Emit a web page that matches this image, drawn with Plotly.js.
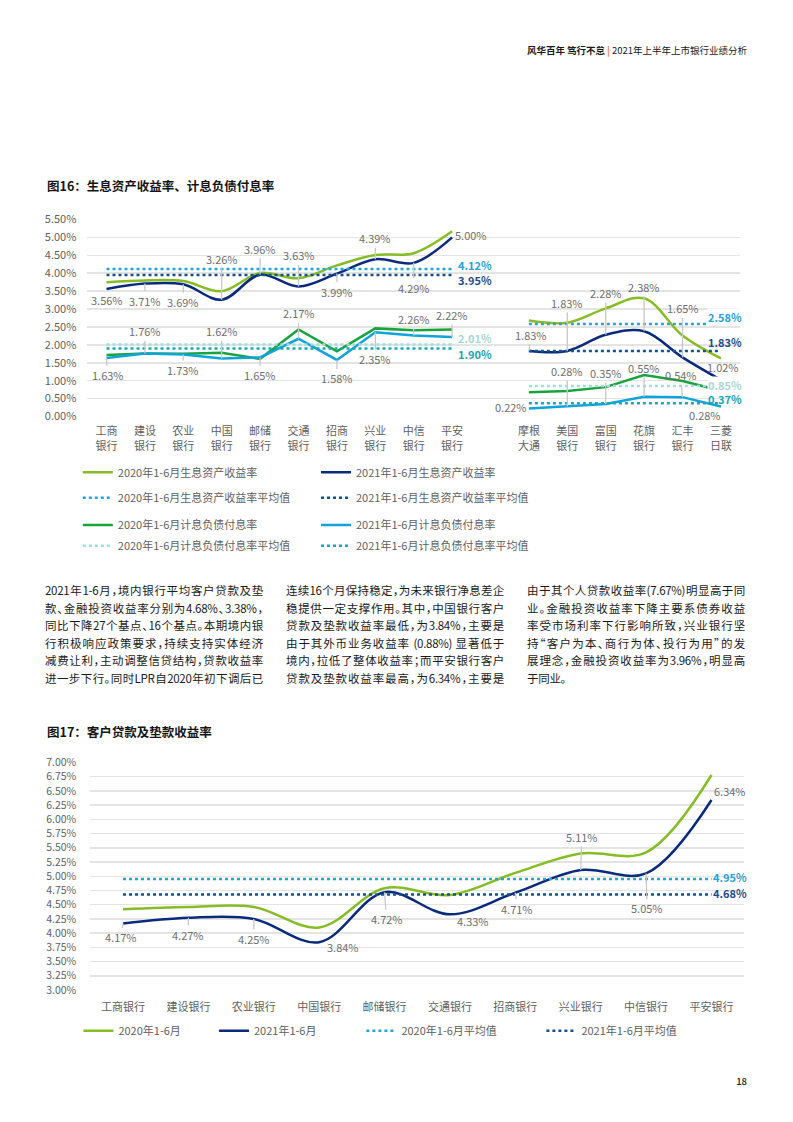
<!DOCTYPE html>
<html><head><meta charset="utf-8">
<script src="https://cdn.plot.ly/plotly-3.0.1.min.js"></script>
<style>
html,body{margin:0;padding:0;background:#fff;width:793px;height:1122px;overflow:hidden;}
#page{position:relative;width:793px;height:1122px;}
#chart{position:absolute;left:0;top:0;width:793px;height:1122px;}
.hdr{position:absolute;right:46px;top:44px;font-family:"Noto Sans CJK SC",sans-serif;font-size:9.5px;line-height:13px;color:#1a1a1a;white-space:nowrap;}
.hdr b{font-weight:700;}
.hdr .bar{color:#e87722;font-weight:700;padding:0 2px;}
.pno{position:absolute;right:46px;top:1075px;font-family:"Noto Sans CJK SC",sans-serif;font-size:9.5px;line-height:13px;color:#222;font-weight:500;}
.col{position:absolute;top:582px;width:218px;font-family:"Noto Sans CJK SC",sans-serif;font-size:11.5px;color:#1a1a1a;line-height:17.5px;font-feature-settings:"halt";}
.col div{white-space:nowrap;text-align:justify;text-align-last:justify;letter-spacing:-0.3px;}
.col div.last{text-align-last:left;}
</style></head>
<body>
<div id="page">
<div id="chart"></div>
<div class="hdr"><b>风华百年 笃行不怠</b><span class="bar">|</span>2021年上半年上市银行业绩分析</div>
<div class="col" style="left:45px;">
<div>2021年1-6月，境内银行平均客户贷款及垫</div>
<div>款、金融投资收益率分别为4.68%、3.38%，</div>
<div>同比下降27个基点、16个基点。本期境内银</div>
<div>行积极响应政策要求，持续支持实体经济</div>
<div>减费让利，主动调整信贷结构，贷款收益率</div>
<div>进一步下行。同时LPR自2020年初下调后已</div>
</div>
<div class="col" style="left:286px;">
<div>连续16个月保持稳定，为未来银行净息差企</div>
<div>稳提供一定支撑作用。其中，中国银行客户</div>
<div>贷款及垫款收益率最低，为3.84%，主要是</div>
<div>由于其外币业务收益率 (0.88%) 显著低于</div>
<div>境内，拉低了整体收益率；而平安银行客户</div>
<div>贷款及垫款收益率最高，为6.34%，主要是</div>
</div>
<div class="col" style="left:527px;">
<div>由于其个人贷款收益率(7.67%)明显高于同</div>
<div>业。金融投资收益率下降主要系债券收益</div>
<div>率受市场利率下行影响所致，兴业银行坚</div>
<div>持“客户为本、商行为体、投行为用”的发</div>
<div>展理念，金融投资收益率为3.96%，明显高</div>
<div class="last">于同业。</div>
</div>
<div class="pno">18</div>
</div>
<script>
// ---------- DATA: Figure 16 ----------
const domesticBanks = ['工商<br>银行','建设<br>银行','农业<br>银行','中国<br>银行','邮储<br>银行','交通<br>银行','招商<br>银行','兴业<br>银行','中信<br>银行','平安<br>银行'];
const foreignBanks = ['摩根<br>大通','美国<br>银行','富国<br>银行','花旗<br>银行','汇丰<br>银行','三菱<br>日联'];
const gapCategory = ' ';
const assetYield2020Dom = [3.75,3.80,3.78,3.50,4.01,3.86,4.22,4.51,4.56,5.17];
const assetYield2021Dom = [3.56,3.71,3.69,3.26,3.96,3.63,3.99,4.39,4.29,5.00];
const liabCost2020Dom = [1.72,1.76,1.75,1.78,1.61,2.43,1.82,2.46,2.41,2.43];
const liabCost2021Dom = [1.63,1.76,1.73,1.62,1.65,2.17,1.58,2.35,2.26,2.22];
const assetYield2020For = [2.68,2.62,3.02,3.30,2.26,1.62];
const assetYield2021For = [1.83,1.83,2.28,2.38,1.65,1.02];
const liabCost2020For = [0.68,0.71,0.82,1.16,0.99,0.72];
const liabCost2021For = [0.22,0.28,0.35,0.55,0.54,0.28];
// averages: [domestic, foreign]
const avgAsset2020 = [4.12, 2.58];
const avgAsset2021 = [3.95, 1.83];
const avgLiab2020 = [2.01, 0.85];
const avgLiab2021 = [1.90, 0.37];

// ---------- DATA: Figure 17 ----------
const loanBanks = ['工商银行','建设银行','农业银行','中国银行','邮储银行','交通银行','招商银行','兴业银行','中信银行','平安银行'];
const loanYield2020 = [4.42,4.46,4.46,4.10,4.79,4.67,5.06,5.40,5.42,6.78];
const loanYield2021 = [4.17,4.27,4.25,3.84,4.72,4.33,4.71,5.11,5.05,6.34];
const loanAvg2020 = 4.95;
const loanAvg2021 = 4.68;

// series names
const names16 = ['2020年1-6月生息资产收益率','2021年1-6月生息资产收益率','2020年1-6月生息资产收益率平均值','2021年1-6月生息资产收益率平均值','2020年1-6月计息负债付息率','2021年1-6月计息负债付息率','2020年1-6月计息负债付息率平均值','2021年1-6月计息负债付息率平均值'];
const names17 = ['2020年1-6月','2021年1-6月','2020年1-6月平均值','2021年1-6月平均值'];

// ---------- STYLE / PLACEMENT (not data) ----------
const C = {green:'#86bc25', navy:'#0a2b7c', green2:'#18a33c', lblue:'#0fa3dc',
           avgA20:'#1fa6e2', avgA21:'#17508f', avgL20:'#a3dcd8', avgL21:'#16a8b6',
           grid:'#e4e4e4', tick:'#5f5f5f', lbl:'#6e6e6e', lead:'#c8c8c8'};
const numFont = 'Liberation Sans Narrow, "Noto Sans CJK SC", sans-serif';
const cjkFont = '"Noto Sans CJK SC", sans-serif';
const lblFont = {family:numFont, size:11, color:C.lbl};
// [ax, ay, arrow]
const offA21Dom = [[0,11,0],[0,17,1],[0,18,1],[0,-41,1],[0,-26,1],[0,-31,1],[0,18,1],[0,-21,1],[0,25,1],[19,-2,0]];
const offL21Dom = [[1,17,1],[0,-22,1],[0,15.5,1],[0,-27,1],[0,18,1],[0,-25.5,1],[0,18.5,1],[0,27,1],[0,-16.5,1],[0,-22,1]];
const offA21For = [[2,-16,1],[0,-48,1],[0,-41.5,1],[0,-44.6,1],[0,-49,1],[2,-13,0]];
const offL21For = [[-18,-2,0],[0,-35.5,1],[0,-30.7,1],[0,-28.5,1],[-2,-22,1],[-16,8.5,0]];
const offLoan21 = [[-2,14,1],[0,17,1],[0,20,1],[24,5,0],[2,27,1],[23,6.6,0],[2,16,1],[1,-33,1],[1,35,1],[18,-9,0]];

const W = 793, H = 1122;
const px2x = p => p / W, px2y = p => 1 - p / H;

const traces = [];
const allCats16 = domesticBanks.concat([gapCategory], foreignBanks);
// invisible trace registering all category slots (including the gap)
traces.push({x: allCats16, y: allCats16.map(() => 0), mode:'lines', line:{width:0, color:'rgba(0,0,0,0)'},
  hoverinfo:'skip', showlegend:false, xaxis:'x', yaxis:'y'});

function line(x, y, color, width, dash, shape, name, legend, showlegend, xa, ya, extra) {
  return Object.assign({x, y, type:'scatter', mode:'lines', name,
    line:{color, width, dash, shape, smoothing:1},
    legend, showlegend, xaxis:xa, yaxis:ya, hoverinfo:'skip', cliponaxis:false}, extra || {});
}
const ends = a => [a[0], a[a.length-1]];
const EW16 = 193.2;

// Figure 16 traces — legend rows
const series16 = [
  [assetYield2020Dom, assetYield2020For, C.green, 'spline', 'legend', 0],
  [assetYield2021Dom, assetYield2021For, C.navy, 'spline', 'legend', 1],
  [liabCost2020Dom, liabCost2020For, C.green2, 'linear', 'legend3', 4],
  [liabCost2021Dom, liabCost2021For, C.lblue, 'linear', 'legend3', 5]
];
const avgs16 = [
  [avgAsset2020, C.avgA20, 'legend2', 2],
  [avgAsset2021, C.avgA21, 'legend2', 3],
  [avgLiab2020, C.avgL20, 'legend4', 6],
  [avgLiab2021, C.avgL21, 'legend4', 7]
];
[[series16[0], series16[1]], [avgs16[0], avgs16[1]], [series16[2], series16[3]], [avgs16[2], avgs16[3]]].forEach((row, ri) => {
  row.forEach(s => {
    if (ri % 2 === 0) {
      const [dom, fr, col, shape, lg, ni] = s;
      traces.push(line(domesticBanks, dom, col, 2.5, 'solid', shape, names16[ni], lg, true, 'x', 'y', {legendwidth:EW16}));
      traces.push(line(foreignBanks, fr, col, 2.5, 'solid', shape, names16[ni], lg, false, 'x', 'y'));
    } else {
      const [av, col, lg, ni] = s;
      traces.push(line(ends(domesticBanks), [av[0], av[0]], col, 2.5, 'dot', 'linear', names16[ni], lg, true, 'x', 'y', {legendwidth:EW16}));
      traces.push(line(ends(foreignBanks), [av[1], av[1]], col, 2.5, 'dot', 'linear', names16[ni], lg, false, 'x', 'y'));
    }
  });
});

// Figure 17 traces
const lw17 = [90.6, 102.4, 135, 120];
traces.push(line(loanBanks, loanYield2020, C.green, 2.5, 'solid', 'spline', names17[0], 'legend5', true, 'x2', 'y2', {legendwidth:lw17[0]}));
traces.push(line(loanBanks, loanYield2021, C.navy, 2.5, 'solid', 'spline', names17[1], 'legend5', true, 'x2', 'y2', {legendwidth:lw17[1]}));
traces.push(line(ends(loanBanks), [loanAvg2020, loanAvg2020], C.avgA20, 2.5, 'dot', 'linear', names17[2], 'legend5', true, 'x2', 'y2', {legendwidth:lw17[2]}));
traces.push(line(ends(loanBanks), [loanAvg2021, loanAvg2021], C.avgA21, 2.5, 'dot', 'linear', names17[3], 'legend5', true, 'x2', 'y2', {legendwidth:lw17[3]}));

// ---------- annotations ----------
const ann = [];
function lbl(xr, yr, x, y, off) {
  const [ax, ay, arrow] = off;
  const text = y.toFixed(2) + '%';
  if (arrow) return {xref:xr, yref:yr, x, y, text, showarrow:true, arrowhead:0, arrowwidth:1.3, arrowcolor:C.lead, ax, ay, font:lblFont};
  return {xref:xr, yref:yr, x, y, text, showarrow:false, xshift:ax, yshift:-ay, font:lblFont};
}
domesticBanks.forEach((b, i) => { ann.push(lbl('x','y', b, assetYield2021Dom[i], offA21Dom[i])); ann.push(lbl('x','y', b, liabCost2021Dom[i], offL21Dom[i])); });
foreignBanks.forEach((b, i) => { ann.push(lbl('x','y', b, assetYield2021For[i], offA21For[i])); ann.push(lbl('x','y', b, liabCost2021For[i], offL21For[i])); });
loanBanks.forEach((b, i) => ann.push(lbl('x2','y2', b, loanYield2021[i], offLoan21[i])));

function avgLbl(xr, yr, x, v, col, xs, ys, bg) {
  return {xref:xr, yref:yr, x, y:v, text:v.toFixed(2)+'%', showarrow:false, xanchor:'left', xshift:xs, yshift:ys,
    font:{family:numFont, size:11, color:col, weight:700}, bgcolor: bg ? '#ffffff' : 'rgba(0,0,0,0)', borderpad:0};
}
const lastDom = domesticBanks[domesticBanks.length-1], lastFor = foreignBanks[foreignBanks.length-1];
ann.push(avgLbl('x','y', lastDom, avgAsset2020[0], '#2a9fd8', 4.5, 3.5, false));
ann.push(avgLbl('x','y', lastDom, avgAsset2021[0], '#1e4d89', 4.5, -4.5, false));
ann.push(avgLbl('x','y', lastDom, avgLiab2020[0], '#a6d8d6', 4.5, 6.5, false));
ann.push(avgLbl('x','y', lastDom, avgLiab2021[0], '#1aa5b0', 4.5, -5.5, false));
ann.push(avgLbl('x','y', lastFor, avgAsset2020[1], '#2a9fd8', -14, 7.4, true));
ann.push(avgLbl('x','y', lastFor, avgAsset2021[1], '#1e4d89', -14, 9.3, false));
ann.push(avgLbl('x','y', lastFor, avgLiab2020[1], '#a6d8d6', -14, 1.5, true));
ann.push(avgLbl('x','y', lastFor, avgLiab2021[1], '#1aa5b0', -14, 4.5, false));
const lastLoan = loanBanks[loanBanks.length-1];
ann.push(avgLbl('x2','y2', lastLoan, loanAvg2020, '#2a9fd8', 0, 2.4, false));
ann.push(avgLbl('x2','y2', lastLoan, loanAvg2021, '#1e4d89', 0, 1, false));

// chart titles
ann.push({xref:'paper', yref:'paper', x:px2x(45), y:px2y(185), xanchor:'left', yanchor:'middle', showarrow:false,
  text:'图16：生息资产收益率、计息负债付息率', font:{family:cjkFont, size:12.5, color:'#151515', weight:700}});
ann.push({xref:'paper', yref:'paper', x:px2x(45), y:px2y(731), xanchor:'left', yanchor:'middle', showarrow:false,
  text:'图17：客户贷款及垫款收益率', font:{family:cjkFont, size:12.5, color:'#151515', weight:700}});

const legFont = {family:numFont, size:11, color:'#5f5f5f'};
function leg(xp, yp) { return {orientation:'h', x:px2x(xp), y:px2y(yp), xanchor:'left', yanchor:'middle', font:legFont,
  bgcolor:'rgba(0,0,0,0)', borderwidth:0, traceorder:'normal', itemclick:false}; }

const layout = {
  width:W, height:H, margin:{l:0,r:0,t:0,b:0}, paper_bgcolor:'#ffffff', plot_bgcolor:'rgba(0,0,0,0)',
  showlegend:true,
  xaxis:{domain:[px2x(87.3), px2x(740.1)], type:'category', categoryorder:'array', categoryarray:allCats16,
    range:[-0.5, 16.5], showgrid:false, zeroline:false, showline:false, ticks:'', ticklabelstandoff:6,
    tickfont:{family:cjkFont, size:11, color:C.tick}, fixedrange:true},
  yaxis:{domain:[px2y(417.2), px2y(218.8)], range:[-0.02, 5.52], tickmode:'linear', tick0:0, dtick:0.5, tickformat:'.2f', ticksuffix:'%',
    showgrid:true, gridcolor:C.grid, gridwidth:1.5, zeroline:false, showline:false, ticks:'', ticklabelstandoff:10,
    tickfont:{family:numFont, size:11, color:C.tick}, fixedrange:true},
  xaxis2:{domain:[px2x(90.3), px2x(744.2)], type:'category', categoryorder:'array', categoryarray:loanBanks,
    range:[-0.5, 9.5], showgrid:false, zeroline:false, showline:false, ticks:'', ticklabelstandoff:8, anchor:'y2',
    tickfont:{family:cjkFont, size:11, color:C.tick}, fixedrange:true},
  yaxis2:{domain:[px2y(990.57), px2y(761.93)], range:[2.99, 7.01], tickmode:'linear', tick0:3, dtick:0.25, tickformat:'.2f', ticksuffix:'%',
    showgrid:true, gridcolor:C.grid, gridwidth:1.5, zeroline:false, showline:false, ticks:'', ticklabelstandoff:13, anchor:'x2',
    tickfont:{family:numFont, size:10.5, color:C.tick}, fixedrange:true},
  legend:leg(77.8, 472.3),
  legend2:leg(77.8, 497.7),
  legend3:leg(77.8, 525),
  legend4:leg(77.8, 545.7),
  legend5:leg(78.4, 1030.7),
  annotations:ann
};
Plotly.newPlot('chart', traces, layout, {staticPlot:true, displayModeBar:false});
</script>
</body></html>
